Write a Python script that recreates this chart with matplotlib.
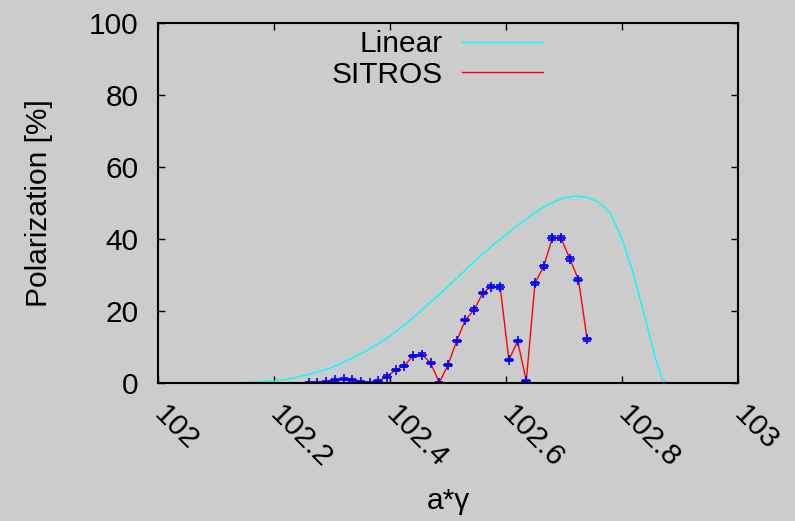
import matplotlib
matplotlib.use('Agg')
import matplotlib.pyplot as plt

# Linear spin tracking curve
lin_x = [102.10, 102.12, 102.14, 102.16, 102.18, 102.20, 102.22, 102.24, 102.26, 102.28,
         102.30, 102.32, 102.34, 102.36, 102.38, 102.40, 102.42, 102.44, 102.46, 102.48,
         102.50, 102.52, 102.54, 102.56, 102.58, 102.60, 102.62, 102.64, 102.66, 102.68,
         102.70, 102.72, 102.74, 102.76, 102.78, 102.80, 102.82, 102.84, 102.86, 102.87, 102.88]
lin_y = [0.0, 0.05, 0.1, 0.2, 0.35, 0.6, 1.0, 1.6, 2.4, 3.3,
         4.3, 5.8, 7.3, 9.0, 10.9, 13.0, 15.5, 18.2, 21.0, 23.9,
         26.8, 29.8, 33.0, 35.9, 38.6, 41.2, 43.8, 46.2, 48.4, 50.2,
         51.4, 51.95, 51.6, 50.2, 47.2, 40.0, 30.2, 17.9, 5.6, 0.8, 0.0]

# SITROS simulation points
sit_x = [102.260, 102.275, 102.290, 102.305, 102.320, 102.335, 102.350, 102.365, 102.380,
         102.395, 102.410, 102.425, 102.440, 102.455, 102.470, 102.485, 102.500, 102.515,
         102.530, 102.545, 102.560, 102.575, 102.590, 102.605, 102.620, 102.635, 102.650,
         102.665, 102.680, 102.695, 102.710, 102.725, 102.740]
sit_y = [0.0, 0.1, 0.3, 0.7, 1.1, 0.9, 0.3, 0.0, 0.6,
         1.8, 3.7, 4.8, 7.6, 7.9, 5.6, 0.1, 5.0, 11.7,
         17.5, 20.3, 25.0, 26.8, 26.7, 6.4, 11.6, 0.6, 27.7,
         32.4, 40.3, 40.2, 34.5, 28.7, 12.1]
sit_err = [0.3, 0.3, 0.3, 0.3, 0.3, 0.3, 0.3, 0.3, 0.3,
           0.3, 0.3, 0.3, 0.3, 0.3, 0.3, 0.3, 0.3, 0.3,
           0.4, 0.4, 0.4, 0.5, 0.6, 0.3, 0.3, 0.3, 0.4,
           0.4, 0.5, 0.5, 0.5, 0.4, 0.3]

xticks = [102, 102.2, 102.4, 102.6, 102.8, 103]
xticklabels = ['102', '102.2', '102.4', '102.6', '102.8', '103']
yticks = [0, 20, 40, 60, 80, 100]

plt.rcParams['font.family'] = ['Liberation Sans', 'DejaVu Sans']
bg = '#cccccc'
fs = 21.5

fig = plt.figure(figsize=(7.95, 5.21), dpi=100, facecolor=bg)
ax = fig.add_axes([0.1987, 0.2649, 0.7296, 0.691])
ax.set_facecolor(bg)

ax.plot(lin_x, lin_y, color='cyan', lw=1.0, label='Linear')
ax.plot(sit_x, sit_y, color='red', lw=1.0, label='SITROS')
ax.errorbar(sit_x, sit_y, yerr=sit_err, fmt='+', color='blue', ms=7, mew=1.2,
            elinewidth=1.0, capsize=3, capthick=1.0)

ax.set_xlim(102, 103)
ax.set_ylim(0, 100)
ax.set_xticks(xticks)
ax.set_xticklabels(xticklabels, rotation=-45, ha='left', va='center', rotation_mode='anchor')
ax.set_yticks(yticks)
ax.tick_params(direction='in', length=5, width=1, top=True, right=True, labelsize=fs, pad=14)
ax.tick_params(axis='x', pad=20)
for s in ax.spines.values():
    s.set_linewidth(1.5)

ax.set_xlabel('a*γ', fontsize=fs, labelpad=10)
ax.set_ylabel('Polarization [%]', fontsize=fs, labelpad=26)

ax.legend(loc='upper right', bbox_to_anchor=(0.664, 0.98), frameon=False, fontsize=fs,
          markerfirst=False, handlelength=2.7, handletextpad=0.65, labelspacing=0.08,
          borderaxespad=0, borderpad=0)

fig.savefig('out.png', dpi=100, facecolor=bg)
